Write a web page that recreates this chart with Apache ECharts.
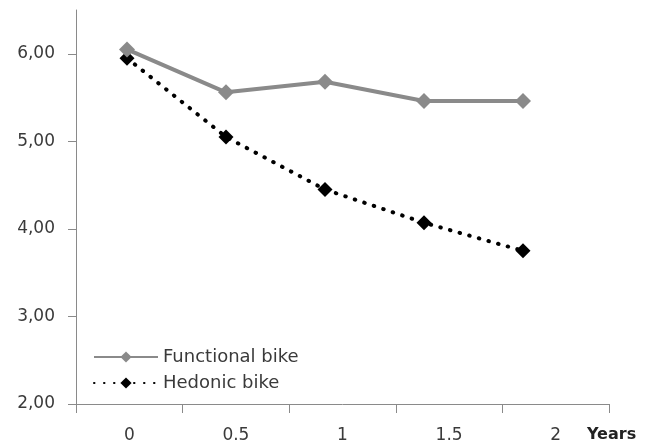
<!DOCTYPE html>
<html><head><meta charset="utf-8">
<script src="https://cdn.jsdelivr.net/npm/echarts@6/dist/echarts.min.js"></script>
<style>html,body{margin:0;padding:0;background:#fff}#c{width:651px;height:444px}</style>
</head><body><div id="c"></div>
<script>
const categories = ['0', '0.5', '1', '1.5', '2'];
const years = [0, 0.5, 1, 1.5, 2];
const functionalBike = [6.05, 5.56, 5.68, 5.46, 5.46];
const hedonicBike = [5.95, 5.05, 4.45, 4.07, 3.75];
const yTicks = [2, 3, 4, 5, 6];

const font = 'DejaVu Sans';
const chart = echarts.init(document.getElementById('c'));
chart.setOption({
  animation: false,
  backgroundColor: '#fff',
  title: {
    text: 'Years', left: 587, top: 427, padding: 0,
    textStyle: { fontFamily: font, fontSize: 16, fontWeight: 'bold', color: '#222' }
  },
  legend: {
    orient: 'vertical', left: 93, top: 348, padding: 0,
    itemWidth: 64, itemHeight: 14, itemGap: 8,
    textStyle: { fontFamily: font, fontSize: 18, color: '#3a3a3a' },
    data: ['Functional bike', 'Hedonic bike']
  },
  grid: [
    { left: 76, right: 42, top: 10, bottom: 40 },
    { left: 127, right: 128, top: 10, bottom: 40 }
  ],
  xAxis: [
    {
      type: 'category', gridIndex: 0, data: categories, boundaryGap: true,
      axisLine: { lineStyle: { color: '#8a8a8a', width: 1 } },
      axisTick: { show: true, interval: 0, length: 9, lineStyle: { color: '#8a8a8a' } },
      axisLabel: { margin: 23, fontFamily: font, fontSize: 17, color: '#3a3a3a' }
    },
    { type: 'value', gridIndex: 1, min: 0, max: 2, show: false }
  ],
  yAxis: [
    {
      type: 'value', gridIndex: 0, min: 2, max: 6.5, interval: 1,
      splitLine: { show: false },
      axisLine: { show: true, lineStyle: { color: '#8a8a8a', width: 1 } },
      axisTick: { show: true, length: 8, customValues: yTicks, lineStyle: { color: '#8a8a8a' } },
      axisLabel: {
        margin: 21, fontFamily: font, fontSize: 17, color: '#3a3a3a',
        customValues: yTicks, padding: [4, 0, 0, 0],
        formatter: v => v.toFixed(2).replace('.', ',')
      }
    },
    { type: 'value', gridIndex: 1, min: 2, max: 6.5, show: false }
  ],
  series: [
    {
      name: 'Functional bike', type: 'line', xAxisIndex: 1, yAxisIndex: 1,
      data: years.map((x, i) => [x, functionalBike[i]]),
      symbol: 'diamond', symbolSize: 16, clip: false,
      lineStyle: { color: '#8a8a8a', width: 4 },
      itemStyle: { color: '#8a8a8a' }, z: 3
    },
    {
      name: 'Hedonic bike', type: 'line', xAxisIndex: 1, yAxisIndex: 1,
      data: years.map((x, i) => [x, hedonicBike[i]]),
      symbol: 'diamond', symbolSize: 15, clip: false,
      lineStyle: { color: '#000', width: 4, type: [0.5, 9.5], cap: 'round' },
      itemStyle: { color: '#000' }, z: 2
    }
  ]
});
</script></body></html>
